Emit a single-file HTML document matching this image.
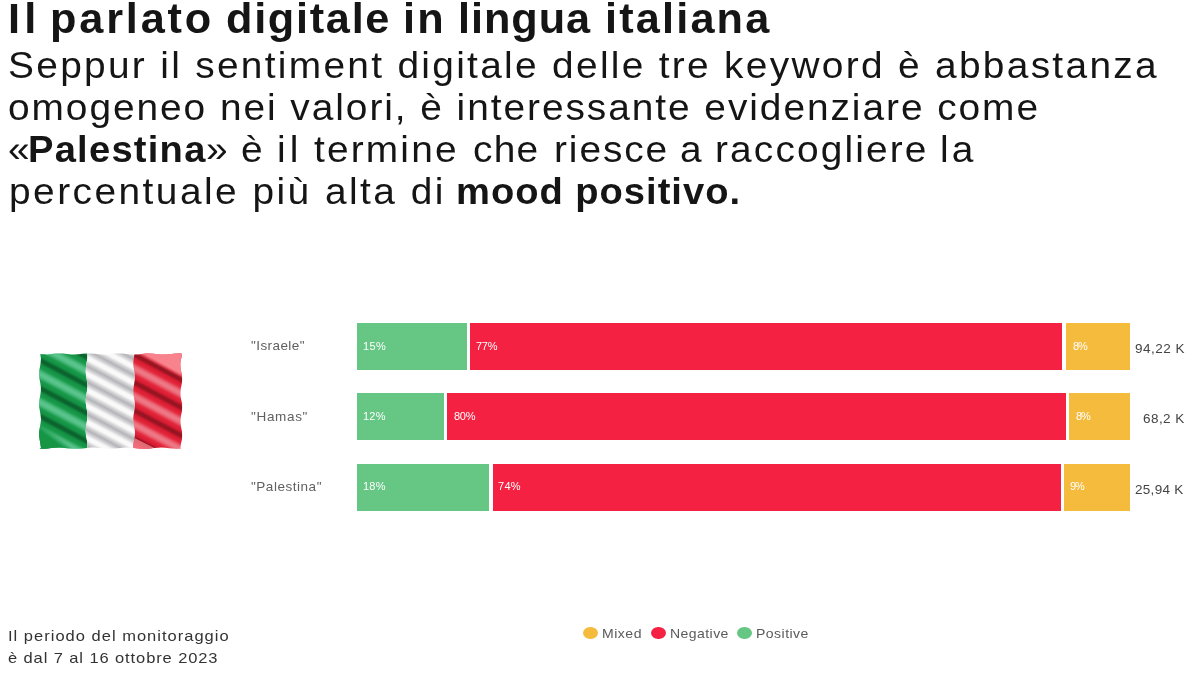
<!DOCTYPE html>
<html>
<head>
<meta charset="utf-8">
<style>
html,body{margin:0;padding:0;background:#fff;}
body{width:1200px;height:676px;position:relative;overflow:hidden;font-family:"Liberation Sans",sans-serif;color:#000;}
.t{position:absolute;white-space:nowrap;transform-origin:0 0;line-height:1;will-change:transform;}
.bar{position:absolute;height:47px;}
.g{background:#66c683;}
.r{background:#f42142;}
.y{background:#f5bb3d;}
.dot{position:absolute;width:15px;height:12.4px;border-radius:50%;}
</style>
</head>
<body>
<div class="t" style="left:8.4px;top:-2px;font-size:42px;letter-spacing:4.078px;transform:scaleX(1.03);color:#151515;font-weight:bold;">Il</div>
<div class="t" style="left:50.0px;top:-2px;font-size:42px;letter-spacing:2.751px;transform:scaleX(1.03);color:#151515;font-weight:bold;">parlato</div>
<div class="t" style="left:226.0px;top:-2px;font-size:42px;letter-spacing:1.664px;transform:scaleX(1.03);color:#151515;font-weight:bold;">digitale</div>
<div class="t" style="left:403.0px;top:-2px;font-size:42px;letter-spacing:2.136px;transform:scaleX(1.03);color:#151515;font-weight:bold;">in</div>
<div class="t" style="left:457.6px;top:-2px;font-size:42px;letter-spacing:0.932px;transform:scaleX(1.03);color:#151515;font-weight:bold;">lingua</div>
<div class="t" style="left:605.0px;top:-2px;font-size:42px;letter-spacing:2.108px;transform:scaleX(1.03);color:#151515;font-weight:bold;">italiana</div>
<div class="t" style="left:7.7px;top:47px;font-size:37px;letter-spacing:2.194px;transform:scaleX(1.05);color:#151515;">Seppur il sentiment digitale delle tre keyword è abbastanza</div>
<div class="t" style="left:8.4px;top:89px;font-size:37px;letter-spacing:1.853px;transform:scaleX(1.05);color:#151515;">omogeneo nei valori, è interessante evidenziare come</div>
<div class="t" style="left:8.0px;top:131px;font-size:37px;letter-spacing:0px;transform:scaleX(1.05);color:#151515;">«</div>
<div class="t" style="left:28.0px;top:131px;font-size:37px;letter-spacing:1.214px;transform:scaleX(1.03);color:#151515;font-weight:bold;">Palestina</div>
<div class="t" style="left:206.0px;top:131px;font-size:37px;letter-spacing:0px;transform:scaleX(1.05);color:#151515;">»</div>
<div class="t" style="left:241.0px;top:131px;font-size:37px;letter-spacing:0px;transform:scaleX(1.05);color:#151515;">è</div>
<div class="t" style="left:277.0px;top:131px;font-size:37px;letter-spacing:3.81px;transform:scaleX(1.05);color:#151515;">il</div>
<div class="t" style="left:314.0px;top:131px;font-size:37px;letter-spacing:2.063px;transform:scaleX(1.05);color:#151515;">termine</div>
<div class="t" style="left:473.0px;top:131px;font-size:37px;letter-spacing:1.143px;transform:scaleX(1.05);color:#151515;">che</div>
<div class="t" style="left:553.7px;top:131px;font-size:37px;letter-spacing:1.828px;transform:scaleX(1.05);color:#151515;">riesce</div>
<div class="t" style="left:679.7px;top:131px;font-size:37px;letter-spacing:0px;transform:scaleX(1.05);color:#151515;">a</div>
<div class="t" style="left:715.3px;top:131px;font-size:37px;letter-spacing:2.038px;transform:scaleX(1.05);color:#151515;">raccogliere</div>
<div class="t" style="left:940.0px;top:131px;font-size:37px;letter-spacing:2.857px;transform:scaleX(1.05);color:#151515;">la</div>
<div class="t" style="left:9.4px;top:173px;font-size:37px;letter-spacing:2.346px;transform:scaleX(1.05);color:#151515;">percentuale più alta di</div>
<div class="t" style="left:455.5px;top:173px;font-size:37px;letter-spacing:0.971px;transform:scaleX(1.03);color:#151515;font-weight:bold;">mood positivo.</div>

<svg id="flag" width="143.3" height="96" preserveAspectRatio="none" viewBox="0 0 144 96" style="position:absolute;left:39px;top:353px;overflow:visible">
<defs>
<clipPath id="fo"><path d="M0.5,1.3 L4.5,1.6 L8.4,1.5 L12.4,1.0 L16.3,0.6 L20.3,0.4 L24.2,0.6 L28.2,1.1 L32.2,1.5 L36.1,1.6 L40.1,1.3 L44.0,0.8 L48.0,0.5 L52.0,0.4 L55.9,0.8 L59.9,1.3 L63.8,1.6 L67.8,1.5 L71.8,1.1 L75.7,0.6 L79.7,0.4 L83.6,0.6 L87.6,1.0 L91.5,1.4 L95.5,1.6 L99.5,1.4 L103.4,0.9 L107.4,0.5 L111.3,0.4 L115.3,0.7 L119.2,1.2 L123.2,1.6 L127.2,1.5 L131.1,1.2 L135.1,0.7 L139.0,0.4 L143.0,0.5 L143.7,1.5 L142.9,5.6 L142.1,9.6 L142.1,13.7 L142.7,17.8 L143.6,21.8 L144.0,25.9 L143.6,30.0 L142.8,34.0 L142.1,38.1 L142.1,42.2 L142.8,46.2 L143.7,50.3 L144.0,54.3 L143.6,58.4 L142.7,62.5 L142.1,66.5 L142.2,70.6 L142.9,74.7 L143.7,78.7 L144.0,82.8 L143.5,86.9 L142.6,90.9 L142.0,95.0 L143.0,95.6 L139.0,95.8 L135.1,95.6 L131.1,95.3 L127.2,94.8 L123.2,94.6 L119.2,94.7 L115.3,95.0 L111.3,95.4 L107.4,95.7 L103.4,95.8 L99.5,95.5 L95.5,95.1 L91.5,94.7 L87.6,94.6 L83.6,94.8 L79.7,95.2 L75.7,95.6 L71.8,95.8 L67.8,95.7 L63.8,95.3 L59.9,94.9 L55.9,94.6 L52.0,94.6 L48.0,94.9 L44.0,95.4 L40.1,95.7 L36.1,95.8 L32.2,95.6 L28.2,95.2 L24.2,94.8 L20.3,94.6 L16.3,94.7 L12.4,95.1 L8.4,95.5 L4.5,95.8 L0.5,95.7 L2.0,95.0 L1.5,90.9 L0.7,86.9 L0.1,82.8 L0.1,78.7 L0.8,74.7 L1.6,70.6 L2.0,66.5 L1.7,62.5 L1.0,58.4 L0.2,54.3 L0.0,50.3 L0.5,46.2 L1.3,42.2 L1.9,38.1 L1.9,34.0 L1.3,30.0 L0.5,25.9 L0.0,21.8 L0.2,17.8 L1.0,13.7 L1.7,9.6 L2.0,5.6 L1.6,1.5Z"/></clipPath>
<clipPath id="cg"><path d="M-2.0,-2.0 L48.3,-2.0 L48.7,2.0 L48.5,6.0 L47.8,10.0 L47.2,14.0 L46.9,18.0 L47.2,22.0 L47.9,26.0 L48.6,30.0 L48.7,34.0 L48.2,38.0 L47.5,42.0 L47.0,46.0 L47.0,50.0 L47.6,54.0 L48.3,58.0 L48.7,62.0 L48.5,66.0 L47.8,70.0 L47.2,74.0 L46.9,78.0 L47.2,82.0 L47.9,86.0 L48.6,90.0 L48.7,94.0 L48.2,98.0 L-2.0,98.0Z"/></clipPath>
<clipPath id="cw"><path d="M48.3,-2.0 L48.7,2.0 L48.5,6.0 L47.8,10.0 L47.2,14.0 L46.9,18.0 L47.2,22.0 L47.9,26.0 L48.6,30.0 L48.7,34.0 L48.2,38.0 L47.5,42.0 L47.0,46.0 L47.0,50.0 L47.6,54.0 L48.3,58.0 L48.7,62.0 L48.5,66.0 L47.8,70.0 L47.2,74.0 L46.9,78.0 L47.2,82.0 L47.9,86.0 L48.6,90.0 L48.7,94.0 L48.2,98.0 L95.1,98.0 L94.7,94.0 L95.0,90.0 L95.8,86.0 L96.4,82.0 L96.4,78.0 L95.8,74.0 L95.1,70.0 L94.7,66.0 L95.0,62.0 L95.8,58.0 L96.4,54.0 L96.4,50.0 L95.8,46.0 L95.1,42.0 L94.7,38.0 L95.0,34.0 L95.8,30.0 L96.4,26.0 L96.4,22.0 L95.8,18.0 L95.1,14.0 L94.7,10.0 L95.0,6.0 L95.8,2.0 L96.4,-2.0Z"/></clipPath>
<clipPath id="cr"><path d="M96.4,-2.0 L95.8,2.0 L95.0,6.0 L94.7,10.0 L95.1,14.0 L95.8,18.0 L96.4,22.0 L96.4,26.0 L95.8,30.0 L95.0,34.0 L94.7,38.0 L95.1,42.0 L95.8,46.0 L96.4,50.0 L96.4,54.0 L95.8,58.0 L95.0,62.0 L94.7,66.0 L95.1,70.0 L95.8,74.0 L96.4,78.0 L96.4,82.0 L95.8,86.0 L95.0,90.0 L94.7,94.0 L95.1,98.0 L146.0,98.0 L146.0,-2.0Z"/></clipPath>
<linearGradient id="gc" gradientUnits="userSpaceOnUse" x1="45.00" y1="16.60" x2="33.41" y2="38.46" spreadMethod="repeat">
<stop offset="0" stop-color="#b4ffe6" stop-opacity="0.46"/>
<stop offset="0.09" stop-color="#b4ffe6" stop-opacity="0.37"/>
<stop offset="0.22" stop-color="#b4ffe6" stop-opacity="0.05"/>
<stop offset="0.36" stop-color="#000" stop-opacity="0.05"/>
<stop offset="0.46" stop-color="#000" stop-opacity="0.34"/>
<stop offset="0.54" stop-color="#000" stop-opacity="0.34"/>
<stop offset="0.64" stop-color="#000" stop-opacity="0.05"/>
<stop offset="0.78" stop-color="#b4ffe6" stop-opacity="0.05"/>
<stop offset="0.91" stop-color="#b4ffe6" stop-opacity="0.37"/>
<stop offset="1" stop-color="#b4ffe6" stop-opacity="0.46"/>
</linearGradient>
<linearGradient id="gr" gradientUnits="userSpaceOnUse" x1="45.00" y1="16.60" x2="33.41" y2="38.46" spreadMethod="repeat">
<stop offset="0" stop-color="#ffffff" stop-opacity="0.42"/>
<stop offset="0.09" stop-color="#ffffff" stop-opacity="0.34"/>
<stop offset="0.22" stop-color="#ffffff" stop-opacity="0.05"/>
<stop offset="0.36" stop-color="#000" stop-opacity="0.05"/>
<stop offset="0.46" stop-color="#000" stop-opacity="0.34"/>
<stop offset="0.54" stop-color="#000" stop-opacity="0.34"/>
<stop offset="0.64" stop-color="#000" stop-opacity="0.05"/>
<stop offset="0.78" stop-color="#ffffff" stop-opacity="0.05"/>
<stop offset="0.91" stop-color="#ffffff" stop-opacity="0.34"/>
<stop offset="1" stop-color="#ffffff" stop-opacity="0.42"/>
</linearGradient>
<linearGradient id="gw" gradientUnits="userSpaceOnUse" x1="48.80" y1="29.40" x2="42.18" y2="41.89" spreadMethod="repeat">
<stop offset="0" stop-color="#50505a" stop-opacity="0.42"/>
<stop offset="0.18" stop-color="#50505a" stop-opacity="0.26"/>
<stop offset="0.4" stop-color="#50505a" stop-opacity="0.02"/>
<stop offset="0.6" stop-color="#50505a" stop-opacity="0.02"/>
<stop offset="0.82" stop-color="#50505a" stop-opacity="0.26"/>
<stop offset="1" stop-color="#50505a" stop-opacity="0.42"/>
</linearGradient>
<linearGradient id="gf" gradientUnits="userSpaceOnUse" x1="17.5" y1="81.5" x2="13.2" y2="87"><stop offset="0" stop-color="#139645" stop-opacity="0"/><stop offset="1" stop-color="#139645" stop-opacity="1"/></linearGradient>
<linearGradient id="gp" gradientUnits="userSpaceOnUse" x1="120" y1="14.4" x2="122.6" y2="9.5"><stop offset="0" stop-color="#f8838c" stop-opacity="0"/><stop offset="0.35" stop-color="#f8838c" stop-opacity="0.1"/><stop offset="1" stop-color="#f8838c" stop-opacity="1"/></linearGradient>
<filter id="bl" x="-5%" y="-5%" width="110%" height="110%"><feGaussianBlur stdDeviation="0.45"/></filter>
</defs>
<g filter="url(#bl)"><g clip-path="url(#fo)">
<g clip-path="url(#cg)"><rect x="-2" y="-2" width="148" height="100" fill="#139645"/><rect x="-2" y="-2" width="148" height="100" fill="url(#gc)"/><polygon points="-2,66 40,98 -2,98" fill="url(#gf)"/><polygon points="-2,-2 12,-2 -2,8" fill="#139645"/></g>
<g clip-path="url(#cw)"><rect x="-2" y="-2" width="148" height="100" fill="#fdfdfd"/><rect x="-2" y="-2" width="148" height="100" fill="url(#gw)"/></g>
<g clip-path="url(#cr)"><rect x="-2" y="-2" width="148" height="100" fill="#e21d33"/><rect x="-2" y="-2" width="148" height="100" fill="url(#gr)"/><polygon points="92,-2 146,-2 146,28.2 92,-0.5" fill="url(#gp)"/><polygon points="94,84 122,98 94,98" fill="#f5808a" opacity="0.8"/></g>
</g></g>
</svg>

<!-- row 1 -->
<div class="t" style="left:251.1px;top:339px;font-size:13.5px;letter-spacing:0.425px;transform:scaleX(1.0);color:#606060;">&quot;Israele&quot;</div>
<div class="bar g" style="left:357px;top:322.5px;width:110px"></div>
<div class="bar r" style="left:470px;top:322.5px;width:592px"></div>
<div class="bar y" style="left:1066px;top:322.5px;width:64.3px"></div>
<div class="t" style="left:362.8px;top:341px;font-size:11px;letter-spacing:0.4px;transform:scaleX(1.0);color:#fff;">15%</div>
<div class="t" style="left:476.4px;top:341px;font-size:11px;letter-spacing:-0.3px;transform:scaleX(1.0);color:#fff;">77%</div>
<div class="t" style="left:1072.8px;top:341px;font-size:11px;letter-spacing:-1.0px;transform:scaleX(1.0);color:#fff;">8%</div>
<div class="t" style="left:1135.3px;top:342px;font-size:13.5px;letter-spacing:0.5px;transform:scaleX(1.0);color:#444;">94,22 K</div>
<!-- row 2 -->
<div class="t" style="left:251.1px;top:410px;font-size:13.5px;letter-spacing:0.667px;transform:scaleX(1.0);color:#606060;">&quot;Hamas&quot;</div>
<div class="bar g" style="left:357px;top:393.2px;width:87px"></div>
<div class="bar r" style="left:447.4px;top:393.2px;width:618.2px"></div>
<div class="bar y" style="left:1069.2px;top:393.2px;width:61.1px"></div>
<div class="t" style="left:363.0px;top:411px;font-size:11px;letter-spacing:0.2px;transform:scaleX(1.0);color:#fff;">12%</div>
<div class="t" style="left:453.6px;top:411px;font-size:11px;letter-spacing:-0.3px;transform:scaleX(1.0);color:#fff;">80%</div>
<div class="t" style="left:1075.6px;top:411px;font-size:11px;letter-spacing:-1.0px;transform:scaleX(1.0);color:#fff;">8%</div>
<div class="t" style="left:1143.1px;top:412px;font-size:13.5px;letter-spacing:0.44px;transform:scaleX(1.0);color:#444;">68,2 K</div>
<!-- row 3 -->
<div class="t" style="left:251.1px;top:480px;font-size:13.5px;letter-spacing:0.53px;transform:scaleX(1.0);color:#606060;">&quot;Palestina&quot;</div>
<div class="bar g" style="left:357px;top:463.7px;width:132px"></div>
<div class="bar r" style="left:492.5px;top:463.7px;width:568px"></div>
<div class="bar y" style="left:1064px;top:463.7px;width:66.3px"></div>
<div class="t" style="left:363.0px;top:481px;font-size:11px;letter-spacing:0.2px;transform:scaleX(1.0);color:#fff;">18%</div>
<div class="t" style="left:498.2px;top:481px;font-size:11px;letter-spacing:0.3px;transform:scaleX(1.0);color:#fff;">74%</div>
<div class="t" style="left:1070.4px;top:481px;font-size:11px;letter-spacing:-1.0px;transform:scaleX(1.0);color:#fff;">9%</div>
<div class="t" style="left:1135.3px;top:483px;font-size:13.5px;letter-spacing:0.3px;transform:scaleX(1.0);color:#444;">25,94 K</div>

<div class="t" style="left:8.2px;top:628px;font-size:15px;letter-spacing:0.916px;transform:scaleX(1.1);color:#333;">Il periodo del monitoraggio</div>
<div class="t" style="left:7.5px;top:650px;font-size:15px;letter-spacing:0.814px;transform:scaleX(1.1);color:#333;">è dal 7 al 16 ottobre 2023</div>

<div class="dot y" style="left:583px;top:627px"></div><div class="t" style="left:602.0px;top:627px;font-size:13.5px;letter-spacing:0.481px;transform:scaleX(1.04);color:#5a5a5a;">Mixed</div>
<div class="dot r" style="left:651.2px;top:627px"></div><div class="t" style="left:669.8px;top:627px;font-size:13.5px;letter-spacing:0.412px;transform:scaleX(1.04);color:#5a5a5a;">Negative</div>
<div class="dot g" style="left:737.3px;top:627px"></div><div class="t" style="left:756.2px;top:627px;font-size:13.5px;letter-spacing:0.439px;transform:scaleX(1.04);color:#5a5a5a;">Positive</div>
</body>
</html>
